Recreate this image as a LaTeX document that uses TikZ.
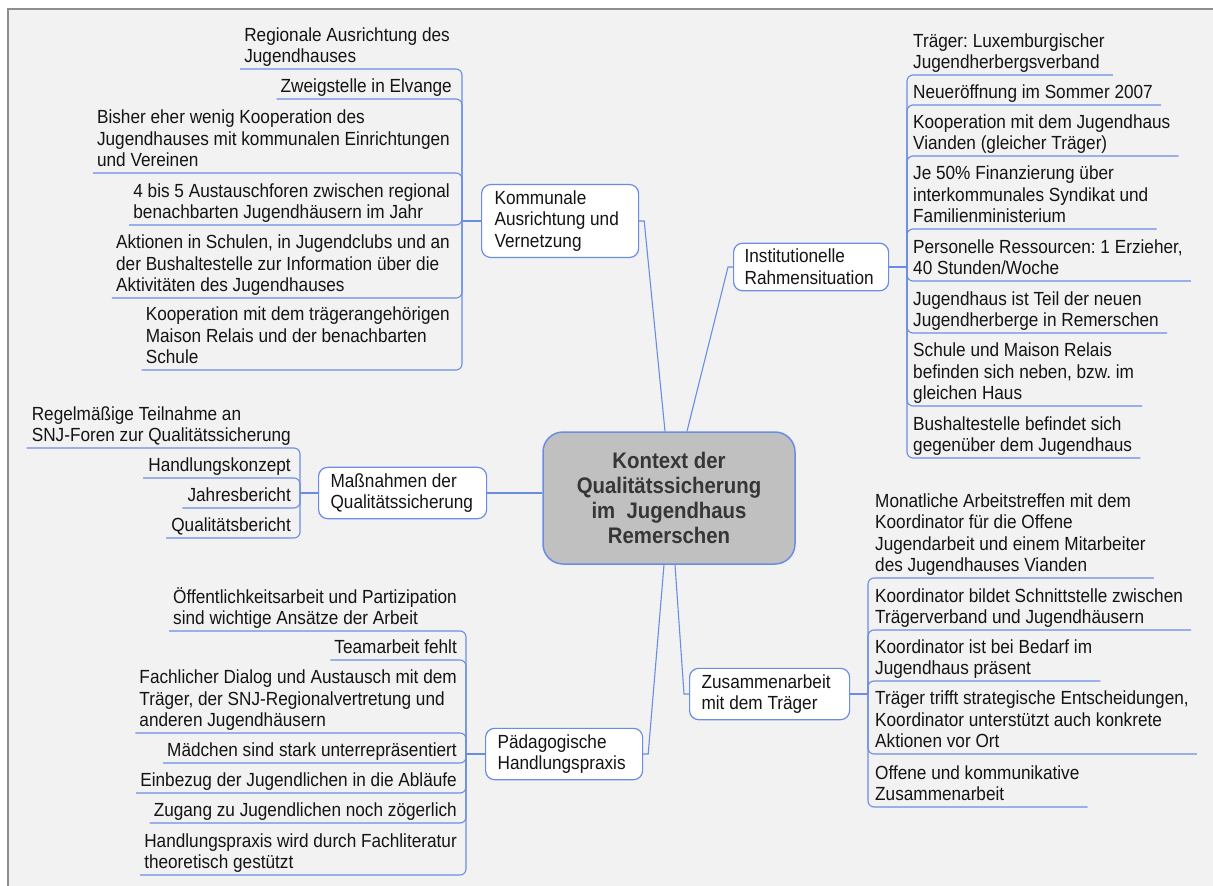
\documentclass[tikz,border=0pt]{standalone}
\usepackage{fontspec}
\setmainfont{Liberation Sans}[FakeStretch=0.905]
\usetikzlibrary{calc}
\definecolor{paper}{HTML}{F2F2F2}
\definecolor{framegray}{HTML}{8E8E8E}
\definecolor{linkblue}{HTML}{6A8DE3}
\definecolor{ink}{HTML}{141414}
\definecolor{hubfill}{HTML}{C0C0C0}
\definecolor{hubink}{HTML}{363636}
\newcommand\leaffont{\fontsize{19bp}{21.6bp}\selectfont}
\newcommand\hubfont{\fontsize{22.5bp}{25bp}\selectfont\bfseries}
\frenchspacing

\begin{document}
\begin{tikzpicture}[x=1bp,y=-1bp,
  hub/.style={draw=linkblue, fill=hubfill, line width=1.5bp, rounded corners=20bp,
    minimum width=252bp, minimum height=132bp, align=center, font=\hubfont, text=hubink},
  topic/.style={draw=linkblue, fill=white, line width=1.2bp, rounded corners=9bp,
    inner xsep=12bp, inner ysep=6bp, align=flush left, font=\leaffont, text=ink, anchor=west},
  leafL/.style={inner sep=0pt, align=left, font=\leaffont, text=ink, text depth=4bp, anchor=south east},
  leafR/.style={inner sep=0pt, align=left, font=\leaffont, text=ink, text depth=4bp, anchor=south west},
  wire/.style={draw=linkblue, line width=1.1bp},
  twig/.style={wire, rounded corners=6bp},
]
% page and frame
\path[use as bounding box] (0,0) rectangle (1213,886);
\fill[white] (0,0) rectangle (1213,886);
\fill[paper] (8,9) rectangle (1213,886);
\draw[framegray, line width=1.5bp] (8,886) -- (8,9) -- (1213,9);

% central topic
\node[hub] (ctr) at (669,498) {Kontext der\\Qualitätssicherung\\im~ Jugendhaus\\Remerschen};

% main topics
\node[topic, inner xsep=13bp, text width=131bp] (kom)  at (481,221) {Kommunale\\Ausrichtung und\\Vernetzung};
\node[topic, inner xsep=11bp, text width=133bp] (inst) at (733,267) {Institutionelle\\Rahmensituation};
\node[topic, text width=144bp] (mas)  at (318,493) {Maßnahmen der\\Qualitätssicherung};
\node[topic, text width=133bp] (pad)  at (485,754) {Pädagogische\\Handlungspraxis};
\node[topic, text width=136bp] (zus)  at (689,694) {Zusammenarbeit\\mit dem Träger};

\draw[wire] (kom.east) -- ++(5,0) -- ($(ctr.north)+(-4,0)$);
\draw[wire] (inst.west) -- ++(-5,0) -- ($(ctr.north)+(18,0)$);
\draw[wire] (mas.east) -- (mas.east -| ctr.west);
\draw[wire] (pad.east) -- ++(5,0) -- ($(ctr.south)+(-5,0)$);
\draw[wire] (zus.west) -- ++(-5,0) -- ($(ctr.south)+(6,0)$);

% Kommunale Ausrichtung und Vernetzung
\coordinate (jk) at (462,221);
\draw[wire] (kom.west) -- (jk);
\node[leafL] (k1) at (450,67)  {Regionale Ausrichtung des\\Jugendhauses};
\node[leafL] (k2) at (452,97)  {Zweigstelle in Elvange};
\node[leafL] (k3) at (450,171) {Bisher eher wenig Kooperation des\\Jugendhauses mit kommunalen Einrichtungen\\und Vereinen};
\node[leafL] (k4) at (450,223) {4 bis 5 Austauschforen zwischen regional\\benachbarten Jugendhäusern im Jahr};
\node[leafL] (k5) at (450,296) {Aktionen in Schulen, in Jugendclubs und an\\der Bushaltestelle zur Information über die\\Aktivitäten des Jugendhauses};
\node[leafL] (k6) at (450,368) {Kooperation mit dem trägerangehörigen\\Maison Relais und der benachbarten\\Schule};
\foreach \n in {k1,k2,k3,k4,k5,k6}
  \draw[twig] (jk) |- ($(\n.south west)+(-4,2)$);

% Institutionelle Rahmensituation
\coordinate (ji) at (907,267);
\draw[wire] (inst.east) -- (ji);
\node[leafR] (i1) at (913,73)  {Träger: Luxemburgischer\\Jugendherbergsverband};
\node[leafR] (i2) at (913,103) {Neueröffnung im Sommer 2007};
\node[leafR] (i3) at (913,154) {Kooperation mit dem Jugendhaus\\Vianden (gleicher Träger)};
\node[leafR] (i4) at (913,227) {Je 50\% Finanzierung über\\interkommunales Syndikat und\\Familienministerium};
\node[leafR] (i5) at (913,279) {Personelle Ressourcen: 1 Erzieher,\\40 Stunden/Woche};
\node[leafR] (i6) at (913,331) {Jugendhaus ist Teil der neuen\\Jugendherberge in Remerschen};
\node[leafR] (i7) at (913,404) {Schule und Maison Relais\\befinden sich neben, bzw. im\\gleichen Haus};
\node[leafR] (i8) at (913,456) {Bushaltestelle befindet sich\\gegenüber dem Jugendhaus};
\foreach \n in {i1,i2,i3,i4,i5,i6,i7,i8}
  \draw[twig] (ji) |- ($(\n.south east)+(8,2)$);

% Maßnahmen der Qualitätssicherung
\coordinate (jm) at (300,493);
\draw[wire] (mas.west) -- (jm);
\node[leafL] (m1) at (291,446) {Regelmäßige Teilnahme an\\SNJ-Foren zur Qualitätssicherung};
\node[leafL] (m2) at (291,476) {Handlungskonzept};
\node[leafL] (m3) at (291,506) {Jahresbericht};
\node[leafL] (m4) at (291,536) {Qualitätsbericht};
\foreach \n in {m1,m2,m3,m4}
  \draw[twig] (jm) |- ($(\n.south west)+(-5,2)$);

% Pädagogische Handlungspraxis
\coordinate (jp) at (466,754);
\draw[wire] (pad.west) -- (jp);
\node[leafL] (p1) at (457,629) {Öffentlichkeitsarbeit und Partizipation\\sind wichtige Ansätze der Arbeit};
\node[leafL] (p2) at (457,658) {Teamarbeit fehlt};
\node[leafL] (p3) at (457,731) {Fachlicher Dialog und Austausch mit dem\\Träger, der SNJ-Regionalvertretung und\\anderen Jugendhäusern};
\node[leafL] (p4) at (457,761) {Mädchen sind stark unterrepräsentiert};
\node[leafL] (p5) at (457,791) {Einbezug der Jugendlichen in die Abläufe};
\node[leafL] (p6) at (457,821) {Zugang zu Jugendlichen noch zögerlich};
\node[leafL] (p7) at (457,873) {Handlungspraxis wird durch Fachliteratur\\theoretisch gestützt};
\foreach \n in {p1,p2,p3,p4,p5,p6,p7}
  \draw[twig] (jp) |- ($(\n.south west)+(-4,2)$);

% Zusammenarbeit mit dem Träger
\coordinate (jz) at (868,694);
\draw[wire] (zus.east) -- (jz);
\node[leafR] (z1) at (875,576) {Monatliche Arbeitstreffen mit dem\\Koordinator für die Offene\\Jugendarbeit und einem Mitarbeiter\\des Jugendhauses Vianden};
\node[leafR] (z2) at (875,628) {Koordinator bildet Schnittstelle zwischen\\Trägerverband und Jugendhäusern};
\node[leafR] (z3) at (875,679) {Koordinator ist bei Bedarf im\\Jugendhaus präsent};
\node[leafR] (z4) at (875,752) {Träger trifft strategische Entscheidungen,\\Koordinator unterstützt auch konkrete\\Aktionen vor Ort};
\node[leafR] (z5) at (875,805) {Offene und kommunikative\\Zusammenarbeit};
\foreach \n in {z1,z2,z3,z4,z5}
  \draw[twig] (jz) |- ($(\n.south east)+(8,2)$);
\end{tikzpicture}
\end{document}
